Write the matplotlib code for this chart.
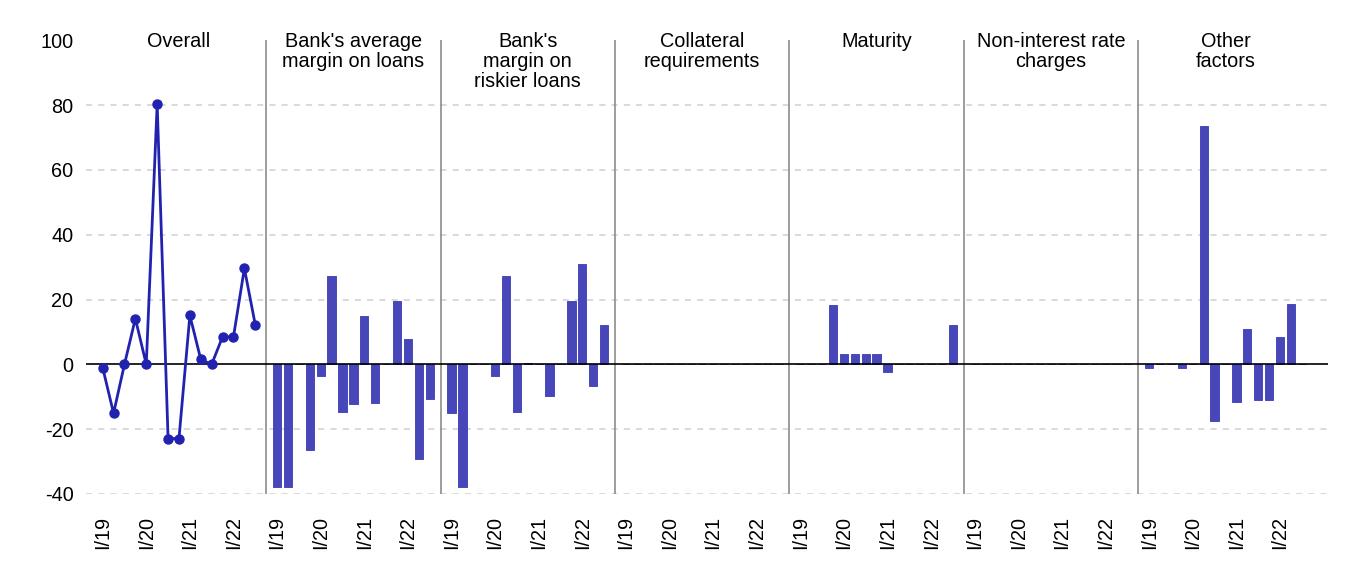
import numpy as np
from matplotlib import pyplot as plt
import matplotlib.transforms as mtransforms

plt.rcParams['font.family'] = ['Liberation Sans', 'DejaVu Sans']

# quarters I/19 .. III/22
quarter_ticks = ["I/19", "I/20", "I/21", "I/22"]
tick_slots = [0, 4, 8, 12]

panel_titles = [
    "Overall",
    "Bank's average\nmargin on loans",
    "Bank's\nmargin on\nriskier loans",
    "Collateral\nrequirements",
    "Maturity",
    "Non-interest rate\ncharges",
    "Other\nfactors",
]

overall = [-1.0, -15.1, 0.0, 14.1, 0.0, 80.3, -22.9, -22.9, 15.1, 1.5, 0.0, 8.5, 8.5, 29.6, 12.2]
avg_margin = [-38.0, -38.0, 0.0, -26.4, -3.6, 27.3, -14.6, -12.3, 15.0, -11.8, 0.0, 19.5, 7.9, -29.1, -10.8]
risky_margin = [-15.1, -38.0, 0.0, 0.0, -3.6, 27.3, -14.6, 0.5, 0.0, -9.8, 0.0, 19.5, 31.1, -6.7, 12.2]
collateral = [0.0] * 15
maturity = [0.0, 0.0, 0.0, 18.3, 3.2, 3.2, 3.2, 3.2, -2.3, 0.0, 0.0, 0.0, 0.0, 0.0, 12.2]
non_interest = [0.0] * 15
other = [-1.0, 0.0, 0.0, -1.0, 0.0, 73.4, -17.5, 0.0, -11.5, 11.0, -11.0, -11.0, 8.4, 18.5, 0.0]

bar_series = [avg_margin, risky_margin, collateral, maturity, non_interest, other]

n_q = 15
step = 16  # 15 quarters + one blank slot per panel

fig = plt.figure(figsize=(13.52, 5.77), dpi=100)
ax = fig.add_axes([0.0636, 0.1439, 0.9186, 0.7863])

# grid
for y in [80, 60, 40, 20, -20, -40]:
    ax.axhline(y, color='#cfcfcf', lw=1.1, ls=(0, (4, 4)), zorder=0)
ax.axhline(0, color='black', lw=1.2, zorder=3)

# separators
for p in range(1, 7):
    ax.axvline(p * step - 1, color='#8c8c8c', lw=1.2, zorder=1)

# overall line
x0 = np.arange(n_q)
ax.plot(x0, overall, color='#2222b0', lw=2, marker='o', markersize=6.5, zorder=4)

# bar panels
for p, vals in enumerate(bar_series, start=1):
    xs = np.arange(n_q) + p * step
    ax.bar(xs, vals, width=0.76, color='#4747b9', edgecolor='#3a3ab5', lw=0.6, zorder=2)

# titles
trans = mtransforms.blended_transform_factory(ax.transData, ax.transAxes)
for p, t in enumerate(panel_titles):
    ax.text(p * step + 7, 1.019, t, transform=trans, ha='center', va='top',
            fontsize=14.3, linespacing=1.08)

ticks = []
labels = []
for p in range(7):
    for s, lab in zip(tick_slots, quarter_ticks):
        ticks.append(p * step + s)
        labels.append(lab)
ax.set_xticks(ticks)
ax.set_xticklabels(labels, rotation=90, fontsize=14.3)
ax.set_yticks([100, 80, 60, 40, 20, 0, -20, -40])
ax.set_yticklabels(['100', '80', '60', '40', '20', '0', '-20', '-40'], fontsize=14.3)
ax.tick_params(axis='x', length=0, pad=16)
ax.tick_params(axis='y', length=0, pad=9)

ax.set_xlim(-1.53, 112.4)
ax.set_ylim(-40, 100)
for s in ax.spines.values():
    s.set_visible(False)

fig.savefig('out.png', dpi=100)
